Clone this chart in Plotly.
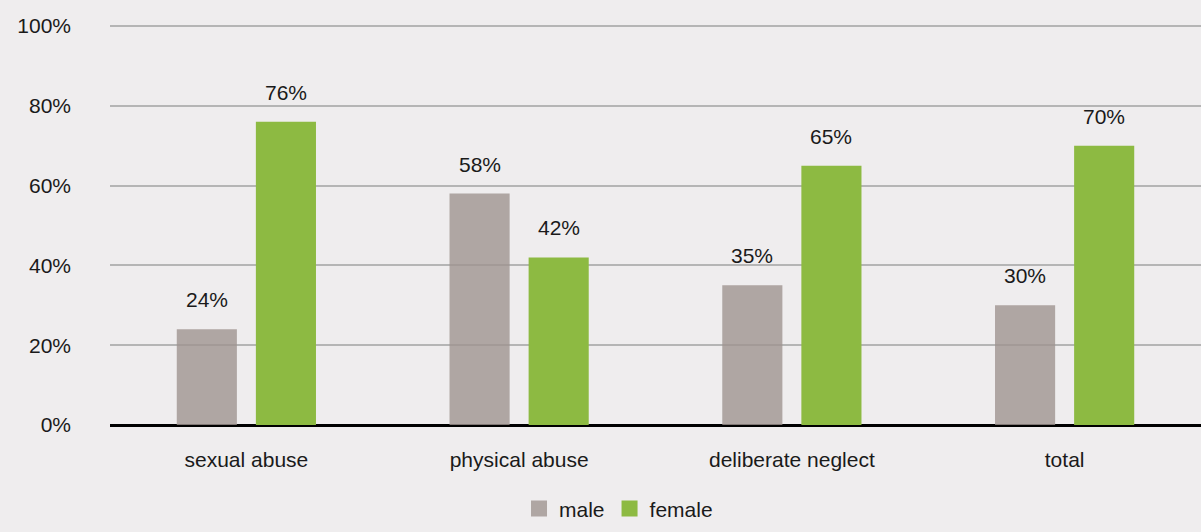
import plotly.graph_objects as go

categories = ["sexual abuse", "physical abuse", "deliberate neglect", "total"]
male = [24, 58, 35, 30]
female = [76, 42, 65, 70]
y_ticks = [0, 20, 40, 60, 80, 100]
y_tick_text = [f"{t}%" for t in y_ticks]

BG = "#efedee"
GREY = "#afa6a3"
GREY_TRANSLUCENT = "rgba(159,148,144,0.8)"
GREEN = "#8dba42"
FONT = "Liberation Sans, Arial, Helvetica, sans-serif"
TEXT = "#1a1a1a"

fig = go.Figure()
fig.add_trace(go.Bar(name="male", x=categories, y=male, showlegend=False,
                     marker=dict(color=GREY_TRANSLUCENT, line=dict(width=0))))
fig.add_trace(go.Bar(name="female", x=categories, y=female, showlegend=False,
                     marker=dict(color=GREEN, line=dict(width=0))))

# legend entries with large square swatches
for name, col in (("male", GREY), ("female", GREEN)):
    fig.add_trace(go.Scatter(name=name, x=[None], y=[None], mode="markers",
                             marker=dict(symbol="square", size=22, color=col),
                             showlegend=True))

# value labels above each bar
offsets = {"male": -0.145, "female": 0.145}
for series, vals in (("male", male), ("female", female)):
    for i, v in enumerate(vals):
        fig.add_annotation(x=i + offsets[series], y=v, text=f"{v}%",
                           xref="x", yref="y", showarrow=False,
                           yanchor="bottom", yshift=16,
                           font=dict(size=21, color=TEXT, family=FONT))

fig.update_layout(
    width=1201, height=532,
    paper_bgcolor=BG, plot_bgcolor=BG,
    margin=dict(l=110, r=0, t=24, b=107),
    barmode="group", bargap=0.42, bargroupgap=0.24,
    font=dict(family=FONT, size=21, color=TEXT),
    showlegend=True,
    legend=dict(orientation="h", xref="container", yref="container",
                x=0.515, xanchor="center", y=0.005, yanchor="bottom",
                font=dict(size=21, color=TEXT),
                itemwidth=30, traceorder="normal",
                bgcolor="rgba(0,0,0,0)"),
    xaxis=dict(showgrid=False, ticks="", tickfont=dict(size=21),
               showline=False, zeroline=False, ticklabelstandoff=20),
    yaxis=dict(range=[0, 100.5], tickmode="array", tickvals=y_ticks,
               ticktext=y_tick_text,
               showgrid=True, gridcolor="#b5b5b5", gridwidth=2,
               zeroline=True, zerolinecolor="#000000", zerolinewidth=3,
               ticks="", ticklabelstandoff=38, tickfont=dict(size=21),
               showline=False),
)

fig.write_html("out.html")
